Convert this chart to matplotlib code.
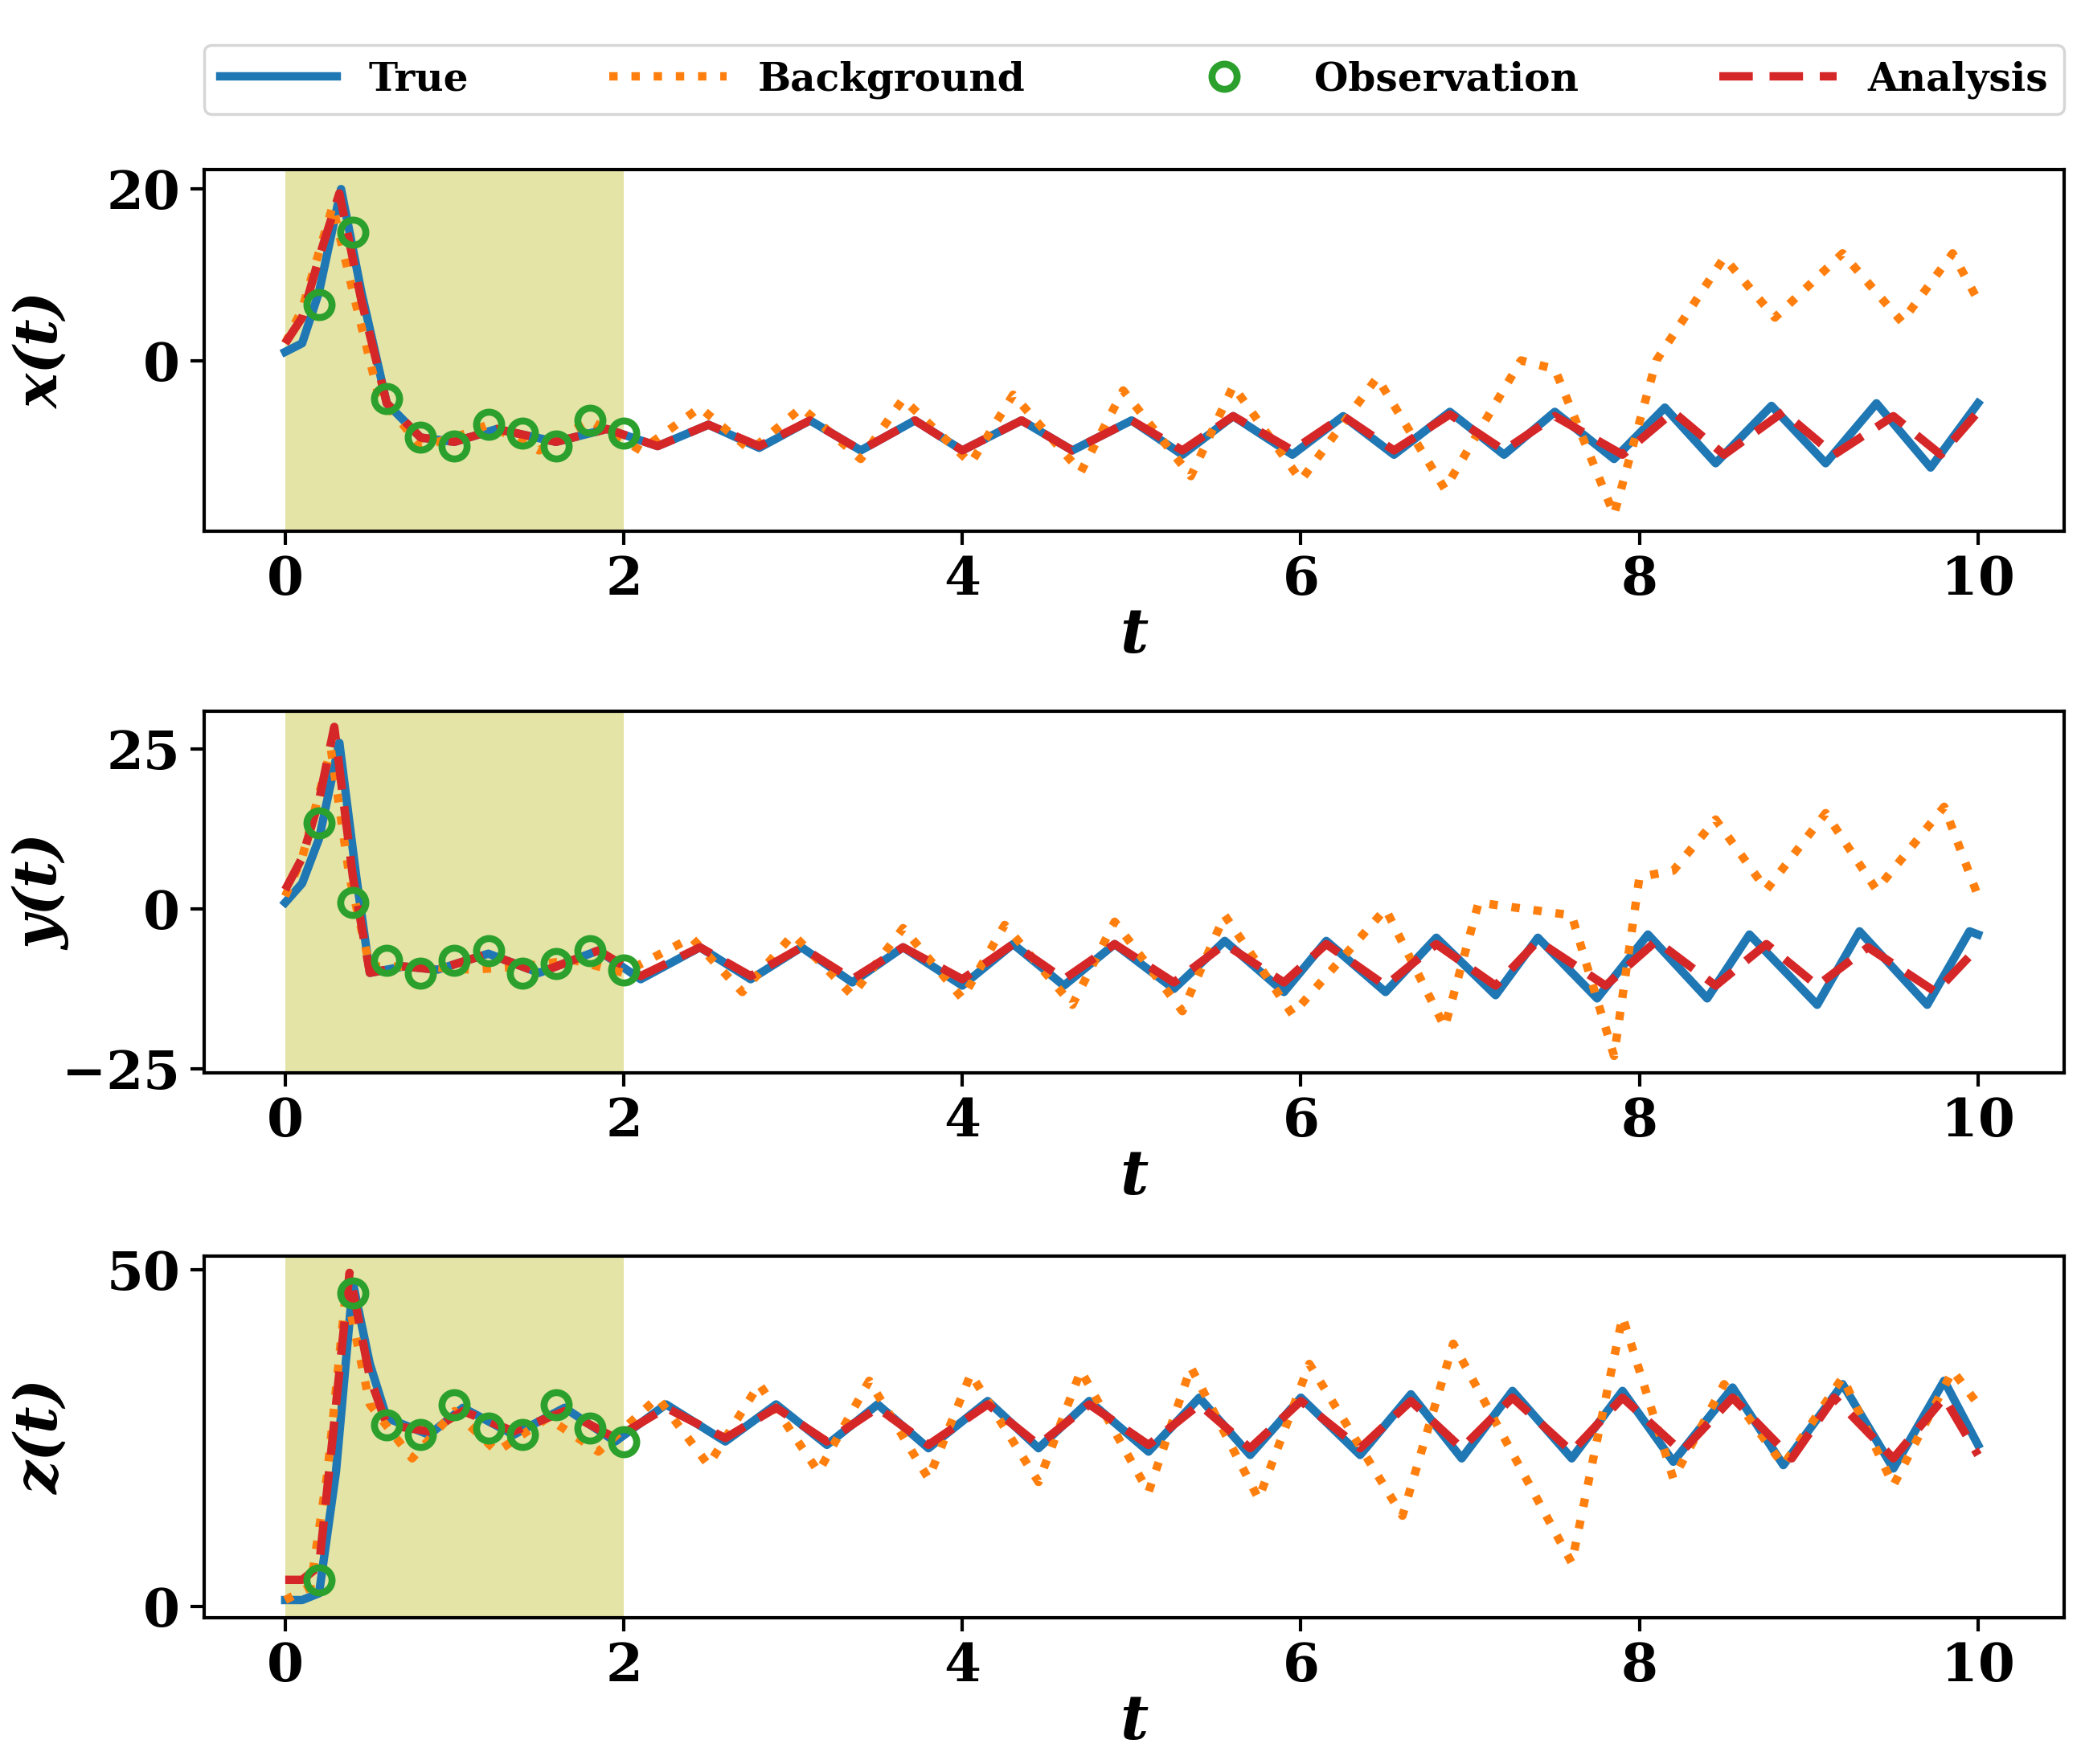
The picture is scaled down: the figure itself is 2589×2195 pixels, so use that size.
import matplotlib
matplotlib.use("Agg")
import matplotlib.pyplot as plt

# ---------------- data ----------------
obs_t = [0.2, 0.4, 0.6, 0.8, 1.0, 1.2, 1.4, 1.6, 1.8, 2.0]
obs_x = [6.5, 15, -4.5, -9, -10, -7.5, -8.5, -10, -7, -8.5]
obs_y = [13.5, 1, -8, -10, -8, -6.5, -10, -8.5, -6.5, -9.5]
obs_z = [4, 46.5, 27, 25.5, 30, 26.5, 25.5, 30, 26.5, 24.5]

true_x_t = [0, 0.1, 0.2, 0.33, 0.45, 0.6, 0.8, 1.0, 1.25, 1.6, 1.9, 2.2, 2.5, 2.8, 3.1, 3.4, 3.72, 4.0, 4.35, 4.65,
            5.0, 5.3, 5.6, 5.95, 6.25, 6.55, 6.88, 7.2, 7.5, 7.85, 8.15, 8.45, 8.78, 9.1, 9.4, 9.72, 10]
true_x = [1, 2, 8, 20, 8, -5, -9, -9.5, -8, -9.5, -8, -10, -7.5, -10.2, -7, -10.5, -7, -10.5, -7, -10.5,
          -7, -11, -6.5, -11, -6.5, -11, -6, -11, -6, -11.5, -5.5, -12, -5.3, -12, -5, -12.5, -5]
ana_x_t = [0, 0.1, 0.2, 0.32, 0.45, 0.6, 0.8, 1.0, 1.25, 1.6, 1.9, 2.2, 2.5, 2.8, 3.1, 3.4, 3.72, 4.0, 4.35, 4.65,
           5.0, 5.3, 5.6, 5.95, 6.25, 6.55, 6.88, 7.2, 7.5, 7.9, 8.2, 8.5, 8.85, 9.15, 9.5, 9.78, 10]
ana_x = [2, 5, 12, 19.5, 7, -5, -9, -9.5, -8, -9.5, -8, -10, -7.5, -10, -7, -10.5, -7, -10.5, -7, -10.5,
         -7, -10.5, -6.5, -10.5, -6.5, -10.5, -6.3, -10.5, -6.5, -11, -6, -11, -6, -11, -6.5, -11, -6]
bg_x_t = [0, 0.1, 0.28, 0.4, 0.55, 0.8, 1.0, 1.2, 1.5, 1.8, 2.1, 2.45, 2.75, 3.05, 3.4, 3.65, 4.05, 4.3, 4.7, 4.95,
          5.35, 5.6, 6.0, 6.45, 6.85, 7.3, 7.5, 7.85, 8.1, 8.5, 8.8, 9.2, 9.55, 9.85, 10]
bg_x = [2, 6, 18, 8, -4, -10, -9, -7.5, -10.5, -7, -10.5, -5.5, -10.5, -5.5, -11.5, -4.5, -12, -4, -13, -3.5,
        -13.5, -3, -14, -2, -15, 0, -1, -18, 0, 12, 5, 12.5, 4.5, 12.5, 7]

true_y_t = [0, 0.1, 0.2, 0.32, 0.42, 0.5, 0.7, 0.9, 1.2, 1.5, 1.85, 2.1, 2.45, 2.75, 3.05, 3.35, 3.65, 4.0, 4.3, 4.6,
            4.9, 5.25, 5.55, 5.9, 6.15, 6.5, 6.8, 7.15, 7.4, 7.75, 8.05, 8.4, 8.65, 9.05, 9.3, 9.7, 9.95, 10]
true_y = [1, 4, 11, 26, 5, -10, -9, -9.5, -7, -10, -6.5, -11, -6, -11, -6, -11.5, -6, -12, -5.5, -12,
          -5.5, -12.5, -5, -13, -5, -13, -4.5, -13.5, -4.5, -14, -4, -14, -4, -15, -3.5, -15, -3.5, -4]
ana_y_t = [0, 0.1, 0.2, 0.29, 0.4, 0.5, 0.7, 0.9, 1.2, 1.5, 1.85, 2.1, 2.45, 2.75, 3.05, 3.35, 3.65, 4.0, 4.3, 4.6,
           4.9, 5.25, 5.55, 5.9, 6.15, 6.5, 6.8, 7.15, 7.4, 7.8, 8.1, 8.45, 8.75, 9.05, 9.35, 9.75, 10]
ana_y = [3, 8, 17, 28.5, 5, -10, -9, -9.5, -7, -10, -6.5, -10.5, -6, -10.5, -6, -11, -6, -11, -5.5, -11,
         -5.5, -11.5, -5.5, -11.5, -5.5, -12, -5.5, -12, -5, -12, -5, -12, -5.5, -12, -6, -13, -6]
bg_y_t = [0, 0.1, 0.27, 0.38, 0.5, 0.8, 1.1, 1.4, 1.7, 2.0, 2.4, 2.7, 3.0, 3.35, 3.65, 4.0, 4.25, 4.65, 4.9, 5.3,
          5.55, 5.95, 6.5, 6.85, 7.05, 7.6, 7.85, 8.0, 8.2, 8.45, 8.75, 9.1, 9.4, 9.8, 10]
bg_y = [2, 8, 25, 5, -9, -9, -9.5, -9, -8, -10, -4.5, -13, -4, -13.5, -3, -14, -2.5, -15, -2, -16,
        -1, -16.5, 0, -18.5, 1, -1, -23, 5, 6, 14, 3, 15, 3, 16, 2]

true_z_t = [0, 0.1, 0.2, 0.3, 0.4, 0.5, 0.6, 0.85, 1.05, 1.35, 1.65, 1.95, 2.25, 2.6, 2.9, 3.2, 3.5, 3.8, 4.15, 4.45,
            4.75, 5.1, 5.4, 5.7, 6.0, 6.35, 6.65, 6.95, 7.25, 7.6, 7.9, 8.2, 8.55, 8.85, 9.2, 9.5, 9.8, 10]
true_z = [1, 1, 2, 20, 48, 36, 28, 25.5, 29.5, 25.5, 29.5, 24.5, 30, 24.5, 30, 24, 30, 23.5, 30.5, 23.5,
          30.5, 23, 31, 22.5, 31, 22.5, 31.5, 22, 32, 22, 32, 21.5, 32.5, 21, 33, 20.5, 33.5, 24]
ana_z_t = [0, 0.1, 0.2, 0.28, 0.38, 0.5, 0.6, 0.85, 1.05, 1.35, 1.65, 1.95, 2.25, 2.6, 2.9, 3.2, 3.5, 3.8, 4.15, 4.45,
           4.75, 5.1, 5.4, 5.7, 6.0, 6.35, 6.65, 6.95, 7.25, 7.6, 7.9, 8.25, 8.55, 8.9, 9.15, 9.5, 9.8, 10]
ana_z = [4, 4, 6, 25, 49.5, 34, 27, 26, 29, 26, 29, 25, 29.5, 25, 29.5, 24.5, 29.5, 24, 30, 24,
         30, 24, 30, 23.5, 30.5, 23.5, 30.5, 23.5, 31, 23, 31, 23, 31, 22, 31, 22, 31, 22.5]
bg_z_t = [0, 0.15, 0.25, 0.36, 0.5, 0.75, 1.0, 1.25, 1.55, 1.85, 2.2, 2.5, 2.8, 3.15, 3.45, 3.8, 4.05, 4.45, 4.7,
          5.1, 5.35, 5.75, 6.05, 6.6, 6.9, 7.6, 7.9, 8.2, 8.5, 8.85, 9.2, 9.5, 9.85, 10]
bg_z = [1, 3, 20, 47, 30, 22, 29, 23, 28, 23, 31, 21, 33, 20, 33.5, 19, 34.5, 18.5, 35,
        17, 35.5, 16, 36, 13.5, 39, 6.5, 43, 19, 33, 21, 34, 18, 35, 30]

xticks = [0, 2, 4, 6, 8, 10]
ylabels = ["x(t)", "y(t)", "z(t)"]
yticks = [[0, 20], [-25, 0, 25], [0, 50]]
ylims = [(-19.9, 22.3), (-25.6, 31.0), (-1.6, 52.0)]

# ---------------- plotting ----------------
plt.rcParams.update({"font.family": "DejaVu Serif", "font.weight": "bold",
                     "axes.linewidth": 1.2})
fig = plt.figure(figsize=(10.356, 8.78), dpi=250)
bottoms = [0.699, 0.392, 0.083]
height = 0.205
series = [
    (true_x_t, true_x, ana_x_t, ana_x, bg_x_t, bg_x, obs_x),
    (true_y_t, true_y, ana_y_t, ana_y, bg_y_t, bg_y, obs_y),
    (true_z_t, true_z, ana_z_t, ana_z, bg_z_t, bg_z, obs_z),
]
handles = None
for i, (tt, tv, at, av, bt, bv, ov) in enumerate(series):
    ax = fig.add_axes([0.098, bottoms[i], 0.894, height])
    ax.axvspan(0, 2, color="#bcbd22", alpha=0.4, lw=0, zorder=0)
    h1, = ax.plot(tt, tv, color="#1f77b4", lw=3, label="True", zorder=2)
    h2, = ax.plot(bt, bv, color="#ff7f0e", lw=3, ls=":", label="Background", zorder=3)
    h3, = ax.plot(obs_t, ov, ls="none", marker="o", ms=9, mfc="none", mec="#2ca02c",
                  mew=2.5, label="Observation", zorder=5)
    h4, = ax.plot(at, av, color="#d62728", lw=3, ls=(0, (4, 2)), label="Analysis", zorder=4)
    handles = [h1, h2, h3, h4]
    ax.set_xlim(-0.48, 10.51)
    ax.set_ylim(*ylims[i])
    ax.set_xticks(xticks)
    ax.set_yticks(yticks[i])
    ax.set_yticklabels([("\u2212" + str(-v)) if v < 0 else str(v) for v in yticks[i]])
    ax.tick_params(labelsize=19, width=1.2, length=5)
    for lab in ax.get_xticklabels() + ax.get_yticklabels():
        lab.set_fontweight("bold")
    ax.set_xlabel("t", fontsize=22, fontstyle="italic", fontweight="bold", labelpad=0)
    ax.set_ylabel(ylabels[i], fontsize=21, fontstyle="italic", fontweight="bold")
    ax.yaxis.set_label_coords(-0.072, 0.5)

fig.legend(handles=handles, loc="center", bbox_to_anchor=(0.545, 0.955), ncol=4,
           frameon=True, handlelength=3.0, columnspacing=3.6, fancybox=True,
           prop={"weight": "bold", "size": 14})
fig.savefig("out.png", dpi=250)
